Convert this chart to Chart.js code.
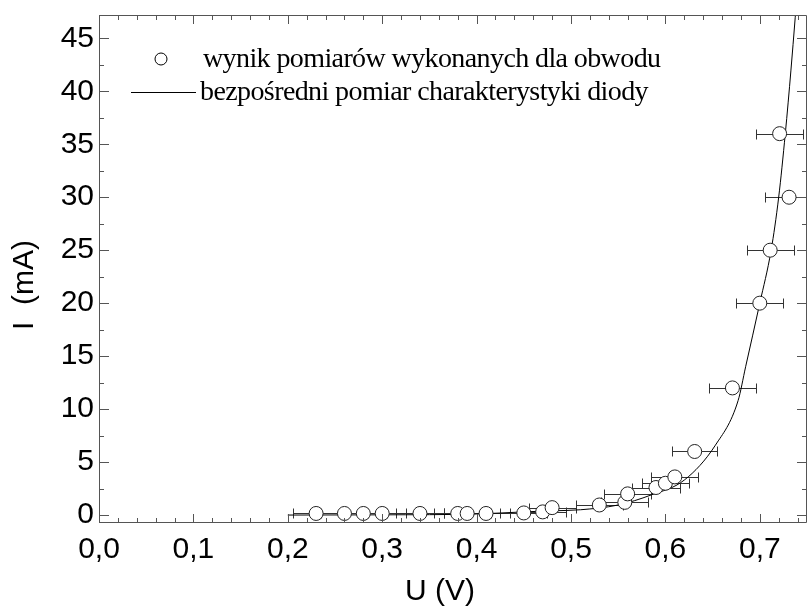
<!DOCTYPE html>
<html>
<head>
<meta charset="utf-8">
<script src="https://cdn.jsdelivr.net/npm/chart.js@4"></script>
<style>
  body { margin: 0; background: #fff; }
</style>
</head>
<body>
<canvas id="diode" width="808" height="612"></canvas>
<script>
// measured points (U in V, I in mA), horizontal error in V
const measU = [0.23, 0.26, 0.28, 0.30, 0.34, 0.38, 0.39, 0.41, 0.45, 0.47, 0.48, 0.53, 0.557, 0.56, 0.59, 0.60, 0.61, 0.631, 0.671, 0.70, 0.711, 0.731, 0.721];
const measI = [0.15, 0.15, 0.15, 0.15, 0.15, 0.15, 0.15, 0.15, 0.2, 0.3, 0.7, 0.95, 1.2, 2.0, 2.6, 3.0, 3.6, 6.0, 12, 20, 25, 30, 36];
const measErrU = [0.025, 0.025, 0.025, 0.025, 0.025, 0.025, 0.025, 0.025, 0.025, 0.025, 0.025, 0.025, 0.025, 0.025, 0.025, 0.025, 0.025, 0.024, 0.025, 0.025, 0.025, 0.025, 0.025];

// direct diode characteristic
const curveU = [0.20, 0.30, 0.40, 0.45, 0.48, 0.51, 0.55, 0.585, 0.62, 0.653, 0.677, 0.685, 0.70, 0.712, 0.72, 0.727, 0.733, 0.742];
const curveI = [0.0, 0.02, 0.1, 0.3, 0.4, 0.5, 0.95, 1.9, 3.3, 6.6, 10.8, 14, 20, 25, 30, 36, 42, 52];

const legendLabels = ['wynik pomiarów wykonanych dla obwodu', 'bezpośredni pomiar charakterystyki diody'];
const xTitle = 'U (V)';
const yTitle = 'I  (mA)';

const frameColor = '#555';

const errorBars = {
    id: 'errorBars',
    beforeDatasetsDraw(chart) {
        const { ctx, chartArea: { left, top, width, height }, scales: { x, y } } = chart;
        ctx.save();
        ctx.beginPath();
        ctx.rect(left, top, width, height);
        ctx.clip();
        ctx.strokeStyle = '#333';
        ctx.lineWidth = 1;
        measU.forEach((u, i) => {
            const py = Math.round(y.getPixelForValue(measI[i])) + 0.5;
            const x0 = Math.round(x.getPixelForValue(u - measErrU[i])) + 0.5;
            const x1 = Math.round(x.getPixelForValue(u + measErrU[i])) + 0.5;
            ctx.beginPath();
            ctx.moveTo(x0, py);
            ctx.lineTo(x1, py);
            ctx.moveTo(x0, py - 5);
            ctx.lineTo(x0, py + 5);
            ctx.moveTo(x1, py - 5);
            ctx.lineTo(x1, py + 5);
            ctx.stroke();
        });
        ctx.restore();
    }
};

const frameTicks = {
    id: 'frameTicks',
    afterDraw(chart) {
        const { ctx, chartArea: { left, top, right, bottom }, scales: { x, y } } = chart;
        ctx.save();
        ctx.strokeStyle = frameColor;
        ctx.lineWidth = 1;
        ctx.beginPath();
        ctx.rect(left + 0.5, top + 0.5, right - left - 1, bottom - top - 1);
        ctx.stroke();

        ctx.beginPath();
        for (let i = 0; i * 0.02 <= x.max + 1e-9; i++) {
            const px = Math.round(x.getPixelForValue(i * 0.02)) + 0.5;
            const len = i % 5 === 0 ? 9 : 5;
            ctx.moveTo(px, bottom);
            ctx.lineTo(px, bottom - len);
            ctx.moveTo(px, top);
            ctx.lineTo(px, top + len);
        }
        for (let i = 0; i * 2.5 <= y.max; i++) {
            const py = Math.round(y.getPixelForValue(i * 2.5)) + 0.5;
            const len = i % 2 === 0 ? 10 : 5;
            ctx.moveTo(left, py);
            ctx.lineTo(left + len, py);
            ctx.moveTo(right, py);
            ctx.lineTo(right - len, py);
        }
        ctx.stroke();

        // axis titles
        ctx.fillStyle = '#000';
        ctx.font = '30px "Liberation Sans"';
        ctx.textAlign = 'center';
        ctx.textBaseline = 'middle';
        ctx.fillText(xTitle, 440, 592);
        ctx.save();
        ctx.translate(25, 285);
        ctx.rotate(-Math.PI / 2);
        ctx.fillText(yTitle, 0, 0);
        ctx.restore();

        // legend
        ctx.textAlign = 'left';
        ctx.font = '28px "Liberation Serif"';
        ctx.letterSpacing = '-0.6px';
        ctx.fillText(legendLabels[0], 203, 60);
        ctx.fillText(legendLabels[1], 200, 93);
        ctx.letterSpacing = '0px';
        ctx.strokeStyle = '#000';
        ctx.beginPath();
        ctx.arc(161, 59, 6, 0, Math.PI * 2);
        ctx.fillStyle = '#fff';
        ctx.fill();
        ctx.stroke();
        ctx.beginPath();
        ctx.moveTo(131, 92.5);
        ctx.lineTo(196, 92.5);
        ctx.stroke();
        ctx.restore();
    }
};

// keep the plot area exactly where the layout padding says
const noLabelPadding = scale => {
    scale.paddingTop = 0;
    scale.paddingBottom = 0;
    scale.paddingLeft = 0;
    scale.paddingRight = 0;
};

new Chart(document.getElementById('diode'), {
    type: 'scatter',
    plugins: [errorBars, frameTicks],
    data: {
        datasets: [
            {
                label: legendLabels[0],
                data: measU.map((u, i) => ({ x: u, y: measI[i] })),
                pointStyle: 'circle',
                pointRadius: 7,
                pointBackgroundColor: '#fff',
                pointBorderColor: '#222',
                pointBorderWidth: 1,
                order: 0
            },
            {
                type: 'line',
                label: legendLabels[1],
                data: curveU.map((u, i) => ({ x: u, y: curveI[i] })),
                borderColor: '#000',
                borderWidth: 1,
                pointRadius: 0,
                cubicInterpolationMode: 'monotone',
                fill: false,
                order: 1
            }
        ]
    },
    options: {
        responsive: false,
        animation: false,
        layout: { autoPadding: false, padding: { top: 15, right: 1, left: 0, bottom: 0 } },
        plugins: {
            legend: { display: false },
            tooltip: { enabled: false }
        },
        scales: {
            x: {
                type: 'linear',
                min: 0,
                max: 0.75,
                afterFit: scale => { scale.height = 89; noLabelPadding(scale); },
                grid: { display: false, drawTicks: false },
                border: { display: false },
                ticks: {
                    stepSize: 0.1,
                    includeBounds: false,
                    autoSkip: false,
                    maxRotation: 0,
                    padding: 9,
                    color: '#000',
                    font: { family: 'Liberation Sans', size: 30 },
                    callback: value => value.toFixed(1).replace('.', ',')
                }
            },
            y: {
                type: 'linear',
                min: -0.75,
                max: 47.2,
                afterFit: scale => { scale.width = 99; noLabelPadding(scale); },
                grid: { display: false, drawTicks: false },
                border: { display: false },
                ticks: {
                    stepSize: 5,
                    includeBounds: false,
                    autoSkip: false,
                    padding: 5,
                    color: '#000',
                    font: { family: 'Liberation Sans', size: 30 },
                    callback: value => String(Math.round(value))
                }
            }
        }
    }
});
</script>
</body>
</html>
